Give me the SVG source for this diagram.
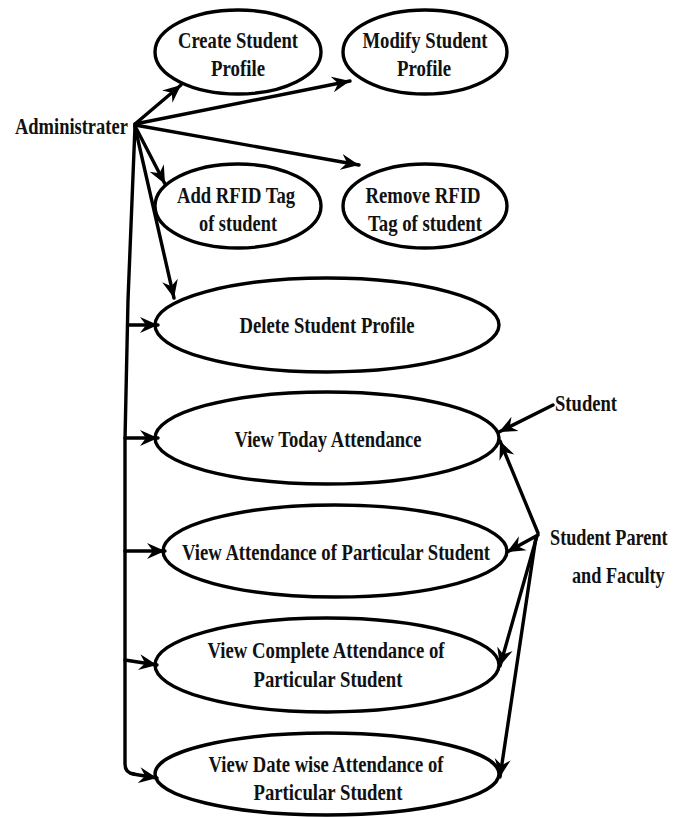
<svg xmlns="http://www.w3.org/2000/svg" width="689" height="817" viewBox="0 0 689 817">
  <style>
    .uc { fill: #fff; stroke: #000; stroke-width: 3.4; }
    .lbl { font-family: "Liberation Serif", "Times New Roman", serif; font-weight: bold; font-size: 24px; fill: #111; text-anchor: middle; }
    .act { font-family: "Liberation Serif", "Times New Roman", serif; font-weight: bold; font-size: 24px; fill: #111; }
    .ln { fill: none; stroke: #000; stroke-width: 3.4; stroke-linejoin: round; stroke-linecap: round; }
    .arr { marker-end: url(#head); }
  </style>
  <defs>
    <marker id="head" markerUnits="userSpaceOnUse" markerWidth="20" markerHeight="20" viewBox="0 0 20 20" refX="18" refY="10" orient="auto">
      <path d="M0,2 L18,10 L0,18 L6,10 z" fill="#000"/>
    </marker>
  </defs>

  <rect width="689" height="817" fill="#fff"/>

  <!-- actors (condensed lettering via horizontal scale) -->
  <g id="actor-admin">
    <text class="act" transform="translate(15,134) scale(0.77,1)">Administrater</text>
  </g>
  <g id="actor-student">
    <text class="act" transform="translate(555,411) scale(0.775,1)">Student</text>
  </g>
  <g id="actor-parent-faculty">
    <text class="act" transform="translate(550,545) scale(0.76,1)">Student Parent</text>
    <text class="act" transform="translate(572,583) scale(0.76,1)">and Faculty</text>
  </g>

  <!-- use cases -->
  <g id="uc-create">
    <ellipse class="uc" cx="238" cy="52" rx="83" ry="42"/>
    <text class="lbl" x="238" y="48" textLength="120" lengthAdjust="spacingAndGlyphs">Create Student</text>
    <text class="lbl" x="238" y="76" textLength="54" lengthAdjust="spacingAndGlyphs">Profile</text>
  </g>
  <g id="uc-modify">
    <ellipse class="uc" cx="425" cy="52" rx="82" ry="42"/>
    <text class="lbl" x="425" y="48" textLength="125" lengthAdjust="spacingAndGlyphs">Modify Student</text>
    <text class="lbl" x="424" y="76" textLength="54" lengthAdjust="spacingAndGlyphs">Profile</text>
  </g>
  <g id="uc-add-rfid">
    <ellipse class="uc" cx="238" cy="206" rx="83" ry="42"/>
    <text class="lbl" x="236" y="203" textLength="118" lengthAdjust="spacingAndGlyphs">Add RFID Tag</text>
    <text class="lbl" x="238" y="231" textLength="78" lengthAdjust="spacingAndGlyphs">of student</text>
  </g>
  <g id="uc-remove-rfid">
    <ellipse class="uc" cx="425" cy="206" rx="82" ry="42"/>
    <text class="lbl" x="423" y="203" textLength="115" lengthAdjust="spacingAndGlyphs">Remove RFID</text>
    <text class="lbl" x="425" y="231" textLength="114" lengthAdjust="spacingAndGlyphs">Tag of student</text>
  </g>
  <g id="uc-delete">
    <ellipse class="uc" cx="327" cy="325" rx="172" ry="47"/>
    <text class="lbl" x="327" y="333" textLength="175" lengthAdjust="spacingAndGlyphs">Delete Student Profile</text>
  </g>
  <g id="uc-today">
    <ellipse class="uc" cx="327" cy="438" rx="172" ry="46"/>
    <text class="lbl" x="328" y="447" textLength="187" lengthAdjust="spacingAndGlyphs">View Today Attendance</text>
  </g>
  <g id="uc-particular">
    <ellipse class="uc" cx="335" cy="551" rx="172" ry="46"/>
    <text class="lbl" x="336" y="560" textLength="308" lengthAdjust="spacingAndGlyphs">View Attendance of Particular Student</text>
  </g>
  <g id="uc-complete">
    <ellipse class="uc" cx="327" cy="665" rx="172" ry="47"/>
    <text class="lbl" x="326" y="658" textLength="237" lengthAdjust="spacingAndGlyphs">View Complete Attendance of</text>
    <text class="lbl" x="328" y="687" textLength="149" lengthAdjust="spacingAndGlyphs">Particular Student</text>
  </g>
  <g id="uc-datewise">
    <ellipse class="uc" cx="327" cy="774" rx="172" ry="41"/>
    <text class="lbl" x="326" y="772" textLength="235" lengthAdjust="spacingAndGlyphs">View Date wise Attendance of</text>
    <text class="lbl" x="328" y="800" textLength="149" lengthAdjust="spacingAndGlyphs">Particular Student</text>
  </g>

  <!-- connectors -->
  <g id="connectors">
    <!-- administrator -->
    <line class="ln arr" x1="135" y1="124" x2="181" y2="85"/>
    <line class="ln arr" x1="135" y1="124" x2="350" y2="81"/>
    <line class="ln arr" x1="135" y1="125" x2="359" y2="165"/>
    <line class="ln arr" x1="135" y1="126" x2="165" y2="184"/>
    <line class="ln arr" x1="135" y1="127" x2="174" y2="298"/>
    <path class="ln" d="M135,126 L128,300 L125,440 L125,764 Q125,773 134,774"/>
    <path class="ln arr" d="M133,774 L157,778"/>
    <line class="ln arr" x1="128" y1="325" x2="158" y2="325"/>
    <line class="ln arr" x1="125" y1="438" x2="158" y2="438"/>
    <line class="ln arr" x1="125" y1="551" x2="165" y2="551"/>
    <line class="ln arr" x1="125" y1="660" x2="157" y2="665"/>
    <!-- student -->
    <line class="ln arr" x1="553" y1="405" x2="499" y2="432"/>
    <!-- parent and faculty -->
    <line class="ln arr" x1="538" y1="533" x2="500" y2="441"/>
    <line class="ln arr" x1="538" y1="535" x2="507" y2="552"/>
    <line class="ln arr" x1="537" y1="536" x2="500" y2="666"/>
    <line class="ln arr" x1="536" y1="537" x2="500" y2="777"/>
  </g>
</svg>
